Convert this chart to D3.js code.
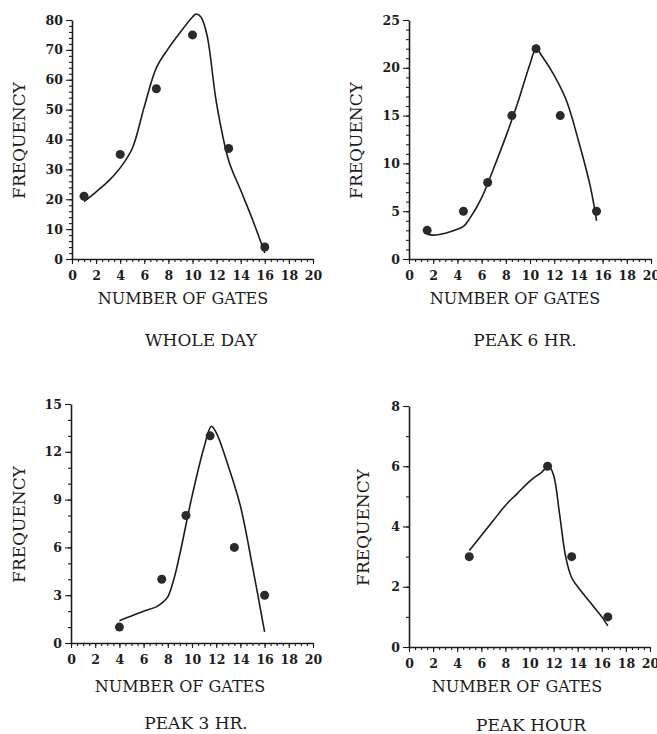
<!DOCTYPE html>
<html>
<head>
<meta charset="utf-8">
<script src="https://cdn.jsdelivr.net/npm/d3@7"></script>
<style>
  body { margin: 0; background: #fff; }
  svg { display: block; }
</style>
</head>
<body>
<div id="chart"></div>
<script>
const W = 657, H = 734;
const INK = '#1c1c1c';
const SERIF = '"DejaVu Serif", "Liberation Serif", serif';

// x axis (number of gates), shared by all four panels
const xTicks = [0, 2, 4, 6, 8, 10, 12, 14, 16, 18, 20];

// WHOLE DAY
const wdGates = [1, 4, 7, 10, 13, 16];
const wdFreq  = [21, 35, 57, 75, 37, 4];
const wdFitX  = [1, 2, 3, 4, 5, 6, 7, 8, 9, 10, 10.3, 10.7, 11.2, 12, 13, 14, 15, 16];
const wdFitY  = [19.2, 22.5, 26, 30.5, 37, 51, 64, 70.5, 76, 81, 82, 81, 75, 52, 33, 23, 13, 2];
const wdTicks = [0, 10, 20, 30, 40, 50, 60, 70, 80];

// PEAK 6 HR.
const p6Gates = [1.5, 4.5, 6.5, 8.5, 10.5, 12.5, 15.5];
const p6Freq  = [3, 5, 8, 15, 22, 15, 5];
const p6FitX  = [1.5, 2, 3, 4, 4.5, 5, 6, 7, 8, 9, 10, 10.5, 11, 12, 13, 14, 15, 15.5];
const p6FitY  = [2.6, 2.5, 2.7, 3.1, 3.4, 4.2, 6.4, 9.5, 12.8, 16.4, 20.4, 22, 21.2, 19.2, 16.6, 12.4, 7.5, 4];
const p6Ticks = [0, 5, 10, 15, 20, 25];

// PEAK 3 HR.
const p3Gates = [4, 7.5, 9.5, 11.5, 13.5, 16];
const p3Freq  = [1, 4, 8, 13, 6, 3];
const p3FitX  = [4, 5, 6, 7, 7.5, 8, 8.5, 9, 10, 11, 11.6, 12, 13, 14, 15, 16];
const p3FitY  = [1.4, 1.7, 2.0, 2.25, 2.5, 2.9, 4, 5.6, 9.2, 12.3, 13.6, 13.2, 11.1, 8.6, 4.8, 0.7];
const p3Ticks = [0, 3, 6, 9, 12, 15];

// PEAK HOUR
const phGates = [5, 11.5, 13.5, 16.5];
const phFreq  = [3, 6, 3, 1];
const phFitX  = [5, 6, 7, 8, 9, 10, 11, 11.6, 12, 12.5, 13, 13.5, 14, 15, 16, 16.5];
const phFitY  = [3.2, 3.7, 4.2, 4.7, 5.1, 5.5, 5.8, 6.0, 5.7, 4.4, 3.0, 2.3, 2.0, 1.5, 1.0, 0.7];
const phTicks = [0, 2, 4, 6, 8];

const panels = [
  { title: 'WHOLE DAY',  gx: wdGates, gy: wdFreq, fx: wdFitX, fy: wdFitY, yTicks: wdTicks, yMinor: 2,
    x0: 72,  x1: 313, yTop: 20,  yBot: 259, freqX: 20,  titleX: 201, nogX: 183, nogY: 304, titleY: 346 },
  { title: 'PEAK 6 HR.', gx: p6Gates, gy: p6Freq, fx: p6FitX, fy: p6FitY, yTicks: p6Ticks, yMinor: 1,
    x0: 409, x1: 651, yTop: 20,  yBot: 259, freqX: 357, titleX: 525, nogX: 515, nogY: 304, titleY: 346 },
  { title: 'PEAK 3 HR.', gx: p3Gates, gy: p3Freq, fx: p3FitX, fy: p3FitY, yTicks: p3Ticks, yMinor: 1,
    x0: 71,  x1: 313, yTop: 404, yBot: 643, freqX: 20,  titleX: 196, nogX: 180, nogY: 692, titleY: 729 },
  { title: 'PEAK HOUR',  gx: phGates, gy: phFreq, fx: phFitX, fy: phFitY, yTicks: phTicks, yMinor: 1,
    x0: 409, x1: 650, yTop: 406, yBot: 647, freqX: 364, titleX: 531, nogX: 517, nogY: 692, titleY: 731 }
];

const svg = d3.select('#chart').append('svg')
  .attr('width', W)
  .attr('height', H);

panels.forEach(p => {
  const yMax = p.yTicks[p.yTicks.length - 1];
  const x = d3.scaleLinear().domain([0, 20]).range([p.x0, p.x1]);
  const y = d3.scaleLinear().domain([0, yMax]).range([p.yBot, p.yTop]);
  const g = svg.append('g');

  // minor ticks first, then the labelled axis on top
  g.append('g')
    .attr('transform', `translate(0,${p.yBot})`)
    .call(d3.axisBottom(x).tickValues(d3.range(0, 20.01, 0.5)).tickSize(3).tickFormat(''))
    .call(a => a.select('.domain').remove());
  g.append('g')
    .attr('transform', `translate(${p.x0},0)`)
    .call(d3.axisLeft(y).tickValues(d3.range(0, yMax + 0.01, p.yMinor)).tickSize(3).tickFormat(''))
    .call(a => a.select('.domain').remove());

  const xa = g.append('g')
    .attr('transform', `translate(0,${p.yBot})`)
    .call(d3.axisBottom(x).tickValues(xTicks).tickSize(5).tickSizeOuter(0).tickPadding(7));
  const ya = g.append('g')
    .attr('transform', `translate(${p.x0},0)`)
    .call(d3.axisLeft(y).tickValues(p.yTicks).tickSize(6).tickSizeOuter(0).tickPadding(3));

  g.selectAll('.tick line').attr('stroke', INK).attr('stroke-width', 1.1);
  g.selectAll('.domain').attr('stroke', INK).attr('stroke-width', 1.6);
  [xa, ya].forEach(a => a.selectAll('text')
    .attr('fill', INK)
    .style('font-family', SERIF)
    .style('font-weight', 'bold')
    .style('font-size', '12.5px'));

  // fitted curve
  const pts = p.fx.map((v, i) => [v, p.fy[i]]);
  g.append('path')
    .datum(pts)
    .attr('fill', 'none')
    .attr('stroke', INK)
    .attr('stroke-width', 1.6)
    .attr('d', d3.line().x(d => x(d[0])).y(d => y(d[1])).curve(d3.curveCatmullRom.alpha(0.5)));

  // observed points
  g.selectAll('circle')
    .data(p.gx.map((v, i) => [v, p.gy[i]]))
    .join('circle')
    .attr('cx', d => x(d[0]))
    .attr('cy', d => y(d[1]))
    .attr('r', 4.5)
    .attr('fill', '#2a2a2a');

  // labels
  const midY = (p.yTop + p.yBot) / 2 + 1;
  g.append('text')
    .attr('transform', `translate(${p.freqX},${midY}) rotate(-90)`)
    .attr('text-anchor', 'middle')
    .attr('dominant-baseline', 'middle')
    .attr('fill', INK)
    .style('font-family', SERIF)
    .style('font-size', '17px')
    .text('FREQUENCY');
  g.append('text')
    .attr('x', p.nogX)
    .attr('y', p.nogY)
    .attr('text-anchor', 'middle')
    .attr('fill', INK)
    .style('font-family', SERIF)
    .style('font-size', '16px')
    .text('NUMBER OF GATES');
  g.append('text')
    .attr('x', p.titleX)
    .attr('y', p.titleY)
    .attr('text-anchor', 'middle')
    .attr('fill', INK)
    .style('font-family', SERIF)
    .style('font-size', '17px')
    .text(p.title);
});
</script>
</body>
</html>
